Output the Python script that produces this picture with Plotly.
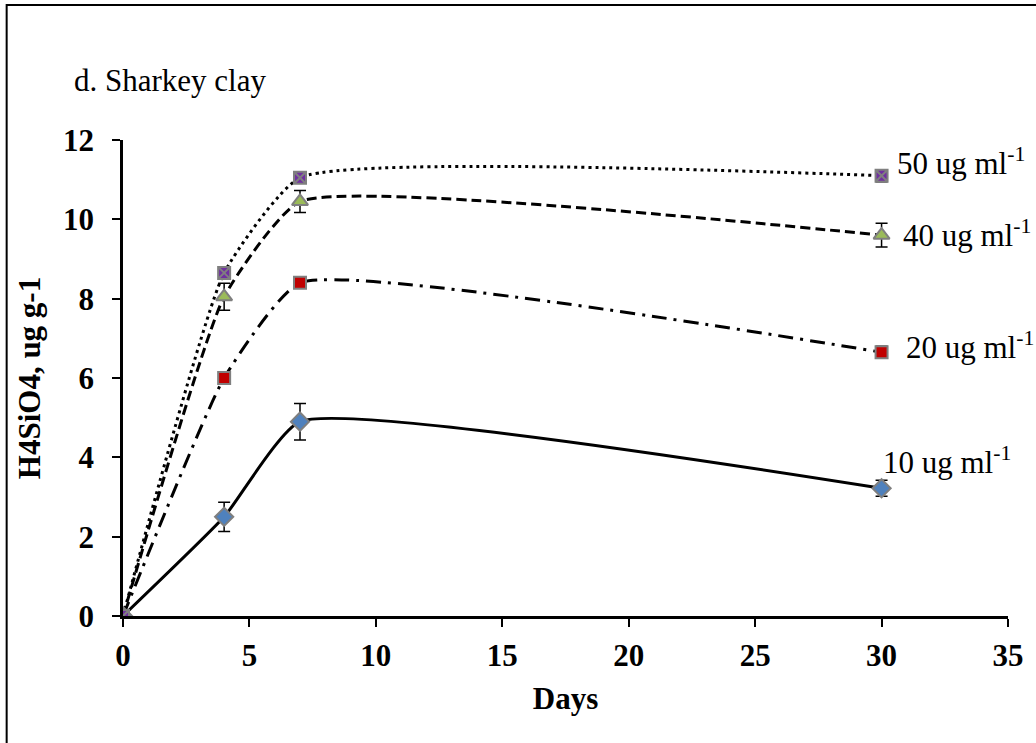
import plotly.graph_objects as go

# ---- data ----
days = [0, 4, 7, 30]
s10 = [0, 2.5, 4.9, 3.22]
e10 = [0.08, 0.37, 0.46, 0.2]
s20 = [0, 6.0, 8.4, 6.65]
e20 = [0.08, 0.15, 0.1, 0.15]
s40 = [0, 8.05, 10.45, 9.6]
e40 = [0.08, 0.34, 0.28, 0.3]
s50 = [0, 8.65, 11.05, 11.1]
e50 = [0.08, 0.05, 0.05, 0.15]
series_names = ["10 ug ml<sup>-1</sup>", "20 ug ml<sup>-1</sup>",
                "40 ug ml<sup>-1</sup>", "50 ug ml<sup>-1</sup>"]
x_ticks = [0, 5, 10, 15, 20, 25, 30, 35]
y_ticks = [0, 2, 4, 6, 8, 10, 12]

W, H = 1036, 743
L, R, T, B = 123, 23, 140, 127
PW, PH = W - L - R, H - T - B

def px_x(p):
    return (p - L) / PW

def px_y(p):
    return (H - B - p) / PH

SERIF = "Liberation Serif, Times New Roman, serif"

styles = [
    dict(y=s10, e=e10, color="#4F81BD", symbol="diamond", size=14, dash="solid"),
    dict(y=s20, e=e20, color="#C00000", symbol="square", size=12, dash="15px,7px,3px,7px"),
    dict(y=s40, e=e40, color="#9BBB59", symbol="triangle-up", size=14, dash="10px,5px"),
    dict(y=s50, e=e50, color="#7030A0", symbol="square-x", size=12, dash="3px,4px"),
]

fig = go.Figure()
for st, nm in zip(styles, series_names):
    fig.add_trace(go.Scatter(
        x=days, y=st["y"], name=nm, mode="lines",
        line=dict(color="black", width=3, dash=st["dash"], shape="spline", smoothing=0.45),
        showlegend=False, hoverinfo="skip"))
for st, nm in zip(styles, series_names):
    fig.add_trace(go.Scatter(
        x=days, y=st["y"], name=nm, mode="markers",
        marker=dict(color=st["color"], symbol=st["symbol"], size=st["size"],
                    line=dict(color="#7F7F7F", width=2)),
        error_y=dict(type="data", array=st["e"], visible=True, color="black",
                     thickness=1.5, width=6),
        showlegend=False))

# series labels
label_pos = [(29.96, 3.93), (30.87, 6.83), (30.75, 9.65), (30.55, 11.45)]
for (lx, ly), nm in zip(label_pos, series_names):
    fig.add_annotation(x=lx, y=ly, xref="x", yref="y", text=nm, showarrow=False,
                       xanchor="left", yanchor="middle",
                       font=dict(family=SERIF, size=31, color="black"))

fig.add_annotation(x=px_x(72), y=px_y(80), xref="paper", yref="paper",
                   text="d. Sharkey clay", showarrow=False,
                   xanchor="left", yanchor="middle",
                   font=dict(family=SERIF, size=31, color="black"))

# outer border
fig.add_shape(type="rect", xref="paper", yref="paper",
              x0=px_x(6), x1=px_x(1045), y0=px_y(755), y1=px_y(5),
              line=dict(color="black", width=2), fillcolor="rgba(0,0,0,0)", layer="below")

fig.update_layout(
    width=W, height=H,
    margin=dict(l=L, r=R, t=T, b=B),
    paper_bgcolor="white", plot_bgcolor="white",
    font=dict(family=SERIF, color="black"),
    xaxis=dict(range=[0, 35], tickvals=x_ticks, ticktext=[str(v) for v in x_ticks],
               showgrid=False, zeroline=False, showline=True, linecolor="black", linewidth=2.5,
               ticks="outside", ticklen=8, tickwidth=2, tickcolor="black",
               tickfont=dict(family=SERIF, size=31, color="black", weight="bold"),
               ticklabelstandoff=2,
               title=dict(text="<b>Days</b>", font=dict(family=SERIF, size=31, color="black"),
                          standoff=16)),
    yaxis=dict(range=[0, 12], tickvals=y_ticks, ticktext=[str(v) for v in y_ticks],
               showgrid=False, zeroline=False, showline=True, linecolor="black", linewidth=2.5,
               ticks="outside", ticklen=8, tickwidth=2, tickcolor="black",
               tickfont=dict(family=SERIF, size=31, color="black", weight="bold"),
               ticklabelstandoff=12,
               title=dict(text="<b>H4SiO4, ug g-1</b>", font=dict(family=SERIF, size=31, color="black"),
                          standoff=14)),
)

fig.write_html("out.html")
